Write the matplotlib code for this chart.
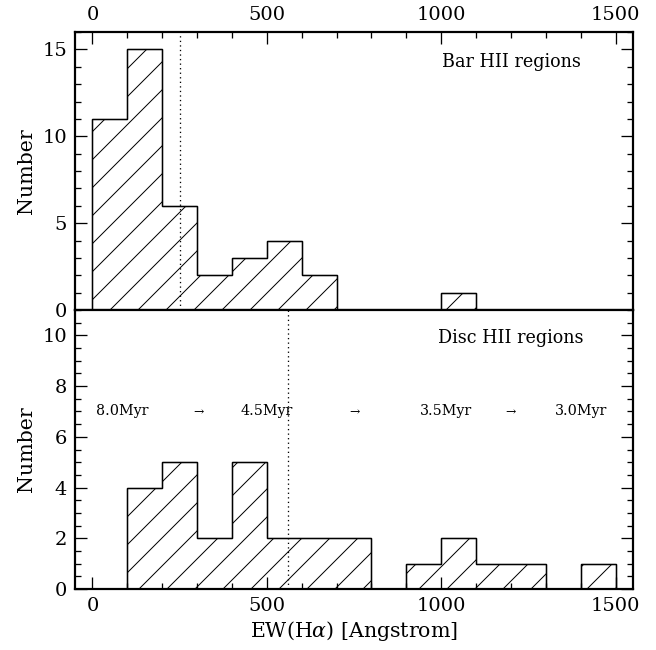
import matplotlib
matplotlib.use("Agg")
import matplotlib.pyplot as plt
import numpy as np

# bins of EW(Halpha), 100 A wide
bin_edges = np.arange(0, 1600, 100)
bar_counts = [11, 15, 6, 2, 3, 4, 2, 0, 0, 0, 1, 0, 0, 0, 0]
disc_counts = [0, 4, 5, 2, 5, 2, 2, 2, 0, 1, 2, 1, 1, 0, 1]
bar_median = 250
disc_median = 560

age_labels = ["8.0Myr", "4.5Myr", "3.5Myr", "3.0Myr"]
age_x = [85, 500, 1015, 1400]
arrow_x = [305, 750, 1200]

DPI = 168
px = 72.0 / DPI  # one pixel in points

plt.rcParams['font.family'] = ['DejaVu Serif']
plt.rcParams['hatch.linewidth'] = 1.0 * px
plt.rcParams['mathtext.fontset'] = 'dejavuserif'

fig = plt.figure(figsize=(656 / DPI, 650 / DPI), dpi=DPI)
L, W = 75 / 656, 558 / 656
ax1 = fig.add_axes([L, 1 - 310 / 650, W, 278 / 650])
ax2 = fig.add_axes([L, 1 - 589 / 650, W, 279 / 650])

fs = 8.3

def draw_hist(ax, counts):
    ax.stairs(counts, bin_edges, fill=False, hatch='//', edgecolor='black',
              linewidth=1.3 * px)
    ax.stairs(counts, bin_edges, fill=False, edgecolor='black',
              linewidth=1.3 * px)

def style(ax, ymax, major, minor):
    ax.set_xlim(-50, 1550)
    ax.set_ylim(0, ymax)
    ax.set_xticks(np.arange(0, 1501, 500))
    ax.set_xticks(np.arange(0, 1501, 100), minor=True)
    ax.set_yticks(np.arange(0, ymax + 0.01, major))
    ax.set_yticks(np.arange(0, ymax + 0.01, minor), minor=True)
    ax.tick_params(which='both', direction='in', right=True,
                   width=1.3 * px, labelsize=fs)
    ax.tick_params(which='major', length=12 * px, pad=8 * px)
    ax.tick_params(which='minor', length=6 * px)
    for s in ax.spines.values():
        s.set_linewidth(2.2 * px)
    ax.set_ylabel("Number", fontsize=fs + 0.5, labelpad=6 * px)

draw_hist(ax1, bar_counts)
ax1.axvline(bar_median, color='black', linestyle=(0, (1, 2.5)), linewidth=1.3 * px)
style(ax1, 16, 5, 1)
# top panel: x ticks and labels on top only
ax1.tick_params(axis='x', which='both', bottom=False, top=True,
                labelbottom=False, labeltop=True)
ax1.text(1200, 14.3, "Bar HII regions", fontsize=fs - 0.8, ha='center', va='center')

draw_hist(ax2, disc_counts)
ax2.axvline(disc_median, color='black', linestyle=(0, (1, 2.5)), linewidth=1.3 * px)
style(ax2, 11, 2, 0.5)
ax2.tick_params(axis='x', which='both', bottom=True, top=False)
ax2.text(1200, 9.9, "Disc HII regions", fontsize=fs - 0.8, ha='center', va='center')
for lab, xx in zip(age_labels, age_x):
    ax2.text(xx, 7.0, lab, fontsize=fs - 2.2, ha='center', va='center')
for xx in arrow_x:
    ax2.text(xx, 7.0, "\u2192", fontsize=fs - 3, ha='center', va='center')
ax2.set_xlabel(r"EW(H$\alpha$) [Angstrom]", fontsize=fs + 0.5, labelpad=4 * px)

fig.savefig("out.png", dpi=DPI)
